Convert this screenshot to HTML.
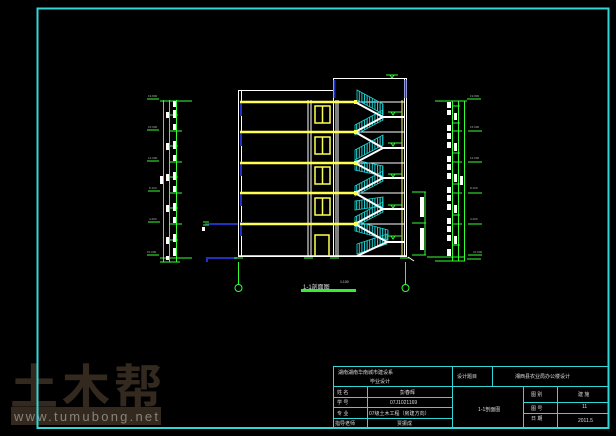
<!DOCTYPE html>
<html><head><meta charset="utf-8"><style>
html,body{margin:0;padding:0;background:#000;width:616px;height:436px;overflow:hidden}
svg{display:block}
text{font-family:"Liberation Sans","Noto Sans CJK SC",sans-serif}
</style></head><body>
<svg width="616" height="436" viewBox="0 0 616 436" xmlns="http://www.w3.org/2000/svg">
<defs>
<pattern id="bal" width="2.6" height="4" patternUnits="userSpaceOnUse">
<rect x="0" y="0" width="1" height="4" fill="#22d6d6"/>
</pattern>
</defs>
<rect width="616" height="436" fill="#000"/>
<!-- watermark -->
<text x="10" y="404" font-size="48" font-weight="bold" fill="#33291f" font-family="'Noto Sans CJK SC',sans-serif" textLength="152">土木帮</text>
<rect x="11" y="407" width="150" height="18" fill="#33291f"/>
<text x="14" y="421" font-size="13" fill="#8a837b" font-family="'Liberation Mono',monospace" textLength="144">www.tumubong.net</text>
<!-- frame -->
<rect x="37.5" y="8.5" width="571" height="419.5" fill="none" stroke="#33d6d6" stroke-width="2"/>
<!-- title block -->
<g stroke="#33d6d6" stroke-width="1" fill="none">
<rect x="333.5" y="366.5" width="275" height="61.5"/>
<line x1="333" y1="386.5" x2="608" y2="386.5"/>
<line x1="333" y1="397.5" x2="452" y2="397.5"/>
<line x1="333" y1="407.5" x2="452" y2="407.5"/>
<line x1="333" y1="418.5" x2="452" y2="418.5"/>
<line x1="523" y1="402.5" x2="608" y2="402.5"/>
<line x1="523" y1="413.5" x2="608" y2="413.5"/>
<line x1="367.5" y1="386" x2="367.5" y2="428"/>
<line x1="452.5" y1="366" x2="452.5" y2="428"/>
<line x1="492.5" y1="366" x2="492.5" y2="386"/>
<line x1="523.5" y1="386" x2="523.5" y2="428"/>
<line x1="557.5" y1="386" x2="557.5" y2="428"/>
</g>
<g fill="#dddddd" font-size="5">
<text x="338" y="374">湖南湖南华南城市建设系</text>
<text x="370" y="383">毕业设计</text>
<text x="457" y="378">设计题目</text>
<text x="515" y="378">湘西县农业局办公楼设计</text>
<text x="337" y="394">姓 名</text><text x="400" y="394">彭春辉</text>
<text x="337" y="404">学 号</text><text x="390" y="404">07J1021169</text>
<text x="337" y="415">专 业</text><text x="369" y="415">07级土木工程（房建方向）</text>
<text x="335" y="425">指导老师</text><text x="397" y="425">贾振成</text>
<text x="478" y="411">1-1剖面图</text>
<text x="531" y="396">图 别</text><text x="578" y="396">建 施</text>
<text x="531" y="410">图 号</text><text x="582" y="408">11</text>
<text x="531" y="420">日 期</text><text x="578" y="422">2011.5</text>
</g>
<!-- building -->
<g fill="none">
<rect x="238.5" y="90.5" width="95" height="166" stroke="#fff"/>
<line x1="241.5" y1="90" x2="241.5" y2="256" stroke="#fff"/>
<rect x="333.5" y="78.5" width="73" height="178" stroke="#fff"/>
<line x1="308" y1="100" x2="308" y2="256" stroke="#fff"/>
<line x1="311" y1="100" x2="311" y2="256" stroke="#fff"/>
<line x1="336" y1="100" x2="336" y2="256" stroke="#fff"/>
<line x1="338" y1="100" x2="338" y2="256" stroke="#fff"/>
<line x1="402" y1="100" x2="402" y2="256" stroke="#ffff60"/>
<line x1="404.5" y1="78" x2="404.5" y2="256" stroke="#fff"/>
<line x1="334.5" y1="80" x2="334.5" y2="98" stroke="#2030c0" stroke-width="2"/>
<line x1="405.5" y1="80" x2="405.5" y2="98" stroke="#2030c0" stroke-width="2"/>
<line x1="241" y1="102" x2="241" y2="250" stroke="#2030c0" stroke-width="2" stroke-dasharray="14 16"/>
</g>
<g stroke="#ffff50" stroke-width="2.5">
<line x1="240" y1="102" x2="355" y2="102"/>
<line x1="240" y1="132" x2="355" y2="132"/>
<line x1="240" y1="163" x2="355" y2="163"/>
<line x1="240" y1="193" x2="355" y2="193"/>
<line x1="240" y1="224" x2="355" y2="224"/>
</g>
<g stroke="#fff" stroke-width="1">
<line x1="355" y1="102" x2="405" y2="102"/>
<line x1="355" y1="132" x2="405" y2="132"/>
<line x1="355" y1="163" x2="405" y2="163"/>
<line x1="355" y1="193" x2="405" y2="193"/>
<line x1="355" y1="224" x2="405" y2="224"/>
</g>
<line x1="238" y1="256" x2="406" y2="256" stroke="#fff" stroke-width="1.5"/>
<!-- windows -->
<g fill="none" stroke="#ffff50" stroke-width="1.5">
<rect x="315" y="106" width="15" height="17"/><line x1="322.5" y1="106" x2="322.5" y2="123"/>
<rect x="315" y="137" width="15" height="17"/><line x1="322.5" y1="137" x2="322.5" y2="154"/>
<rect x="315" y="167" width="15" height="17"/><line x1="322.5" y1="167" x2="322.5" y2="184"/>
<rect x="315" y="198" width="15" height="17"/><line x1="322.5" y1="198" x2="322.5" y2="215"/>
<polyline points="315,256 315,235 329,235 329,256"/>
</g>
<!-- stairs -->
<g fill="url(#bal)" stroke="#22d6d6" stroke-width="0.8">
<polygon points="357,90 383,104 383,114 357,100"/>
<polygon points="383,120 355,135 355,125 383,110"/>
<polygon points="355,150 383,135 383,145 355,160"/>
<polygon points="355,160 383,166 383,176 355,170"/>
<polygon points="383,181 355,196 355,186 383,171"/>
<polygon points="355,201 383,197 383,206 355,210"/>
<polygon points="383,212 355,227 355,217 383,202"/>
<polygon points="355,221 388,230 388,240 355,231"/>
<polygon points="387,244 357,254 357,244 387,234"/>
</g>
<g stroke="#fff" stroke-width="2" fill="none">
<polyline points="355,102 383,117 405,117"/>
<polyline points="383,117 355,132"/>
<polyline points="355,132 383,148 405,148"/>
<polyline points="383,148 355,163"/>
<polyline points="355,163 383,178 405,178"/>
<polyline points="383,178 355,193"/>
<polyline points="355,193 383,209 405,209"/>
<polyline points="383,209 355,224"/>
<polyline points="355,224 387,242 405,242"/>
<polyline points="387,242 357,256"/>
</g>
<g fill="#ffff50"><rect x="354" y="100" width="3" height="4"/><rect x="354" y="130" width="3" height="4"/><rect x="354" y="161" width="3" height="4"/><rect x="354" y="191" width="3" height="4"/><rect x="354" y="222" width="3" height="4"/></g>
<g stroke="#33ff33" stroke-width="1" fill="none">
<path d="M386 75h12M390 75l2 3 2-3"/><path d="M388 112h14M391 112l2 3 2-3"/>
<path d="M388 143h14M391 143l2 3 2-3"/><path d="M388 174h14M391 174l2 3 2-3"/>
<path d="M388 205h14M391 205l2 3 2-3"/><path d="M388 236h14M391 236l2 3 2-3"/>
</g>
<!-- left side blue steps -->
<g stroke="#2030c0" stroke-width="2" fill="none">
<path d="M205 224h33"/><path d="M207 262v-4h30"/>
</g>
<rect x="202" y="227" width="3" height="4" fill="#fff"/>
<g stroke="#33ff33" fill="none"><path d="M203 222h6M203 225h6"/></g>
<!-- axis -->
<g stroke="#33ff33" fill="none">
<line x1="238.5" y1="262" x2="238.5" y2="285"/>
<circle cx="238.5" cy="288" r="3.5"/>
<line x1="405.5" y1="262" x2="405.5" y2="285"/>
<circle cx="405.5" cy="288" r="3.5"/>
<path d="M234 258h9M304 258h9M330 258h9M400 258h10"/>
</g>
<path d="M408 257l6 4" stroke="#fff"/>
<text x="303" y="289" font-size="6" fill="#ddd">1-1剖面图</text>
<text x="340" y="283" font-size="3.5" fill="#ccc">1:100</text>
<rect x="301" y="289" width="55" height="3" fill="#33ee33"/>
<g stroke="#33ff33" fill="none">
<path d="M412 192h14M412 223h14M412 255h14M425 192v63"/>
</g>
<g fill="#fff"><rect x="420" y="197" width="4" height="20"/><rect x="420" y="228" width="4" height="22"/></g>
<!-- left strip -->
<g stroke="#33ff33" fill="none">
<line x1="163.5" y1="100" x2="163.5" y2="262"/>
<line x1="169.5" y1="100" x2="169.5" y2="262"/>
<line x1="176.5" y1="100" x2="176.5" y2="262"/>
<path d="M160 101h32M160 258h32M160 262h20"/>
<path d="M170 131h12M170 162h12M170 193h12M170 224h12M170 115h8M170 146h8M170 177h8M170 208h8M170 240h8"/>
</g>
<g fill="#fff">
<rect x="166" y="112" width="3" height="6"/><rect x="166" y="143" width="3" height="7"/><rect x="166" y="174" width="3" height="7"/><rect x="166" y="205" width="3" height="7"/><rect x="166" y="237" width="3" height="7"/><rect x="166" y="256" width="3" height="4"/>
<rect x="160" y="176" width="3" height="8"/>
<rect x="173" y="101" width="3" height="6"/><rect x="173" y="110" width="3" height="8"/><rect x="173" y="124" width="3" height="6"/><rect x="173" y="141" width="3" height="8"/><rect x="173" y="155" width="3" height="6"/><rect x="173" y="172" width="3" height="8"/><rect x="173" y="186" width="3" height="6"/><rect x="173" y="203" width="3" height="8"/><rect x="173" y="217" width="3" height="6"/><rect x="173" y="234" width="3" height="8"/><rect x="173" y="248" width="3" height="8"/>
</g>
<g fill="#aaa" font-size="3"><text x="148" y="97">19.800</text><text x="148" y="128">15.900</text><text x="148" y="159">12.000</text><text x="149" y="189">8.100</text><text x="149" y="220">4.200</text><text x="147" y="253">±0.000</text></g>
<g stroke="#33ff33" fill="none"><path d="M147 99h12M147 130h12M147 161h12M148 191h12M148 222h12M147 255h12"/></g>
<!-- right strip -->
<g stroke="#33ff33" fill="none">
<line x1="452.5" y1="101" x2="452.5" y2="261"/>
<line x1="458.5" y1="101" x2="458.5" y2="261"/>
<line x1="464.5" y1="101" x2="464.5" y2="261"/>
<path d="M435 101h32M435 257h30M435 261h30M427 257h8"/>
<path d="M452 106h8M452 123h8M452 131h10M452 153h8M452 162h10M452 184h8M452 193h10M452 215h8M452 224h10M452 245h8"/>
<path d="M467 99h14M468 131h14M468 162h14M468 193h14M468 224h14M468 255h14M467 259h14"/>
</g>
<g fill="#fff">
<rect x="447" y="102" width="4" height="6"/><rect x="447" y="110" width="4" height="5"/><rect x="447" y="125" width="4" height="6"/><rect x="447" y="133" width="4" height="6"/><rect x="447" y="142" width="4" height="6"/><rect x="447" y="156" width="4" height="6"/><rect x="447" y="164" width="4" height="6"/><rect x="447" y="173" width="4" height="6"/><rect x="447" y="187" width="4" height="6"/><rect x="447" y="195" width="4" height="6"/><rect x="447" y="204" width="4" height="6"/><rect x="447" y="218" width="4" height="6"/><rect x="447" y="226" width="4" height="6"/><rect x="447" y="235" width="4" height="6"/><rect x="447" y="249" width="4" height="7"/>
<rect x="454" y="113" width="3" height="7"/><rect x="454" y="143" width="3" height="8"/><rect x="454" y="174" width="3" height="8"/><rect x="454" y="205" width="3" height="8"/><rect x="454" y="236" width="3" height="8"/>
<rect x="460" y="176" width="3" height="9"/>
</g>
<g fill="#aaa" font-size="3"><text x="470" y="97">19.800</text><text x="470" y="128">15.900</text><text x="470" y="159">12.000</text><text x="470" y="189">8.100</text><text x="470" y="220">4.200</text><text x="473" y="253">±0.000</text></g>
</svg>
</body></html>
